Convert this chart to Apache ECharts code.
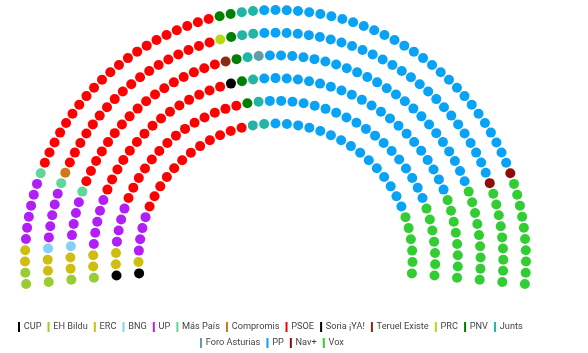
<!DOCTYPE html>
<html>
<head>
<meta charset="utf-8">
<script src="https://cdn.jsdelivr.net/npm/echarts@6/dist/echarts.min.js"></script>
<style>
  html, body { margin: 0; padding: 0; background: #fff; }
  #chart { width: 588px; height: 353px; }
</style>
</head>
<body>
<div id="chart"></div>
<script>
// ---- Data ----
const parties = ["CUP", "EH Bildu", "ERC", "BNG", "UP", "Más País", "Compromis", "PSOE",
  "Soria ¡YA!", "Teruel Existe", "PRC", "PNV", "Junts", "Foro Asturias", "PP", "Nav+", "Vox"];
const seats = [2, 5, 11, 2, 28, 3, 1, 97, 1, 1, 1, 6, 9, 1, 131, 2, 49];
const colors = ["#000000", "#9acd32", "#cfbe10", "#87cefa", "#b11ef8", "#5ed89a", "#d2781c", "#ff0000",
  "#000000", "#8c2a10", "#b4dc0c", "#008000", "#20b5a5", "#5f9ea8", "#08a2f6", "#8b0e0a", "#32cd32"];
// seats on each arc, inner arc first
const rowSeats = [41, 48, 55, 62, 69, 75];
const legendLine1 = parties.slice(0, 13);
const legendLine2 = parties.slice(13);

// ---- Layout of seats (hemicycle slightly over 180 degrees) ----
const START = 185.4, SPAN = 190.8;
const slots = [];
rowSeats.forEach((n, row) => {
  const step = SPAN / (n - 1);
  for (let k = 0; k < n; k++) {
    slots.push({ row: row, angle: START - k * step });
  }
});
slots.sort((p, q) => (q.angle - p.angle) || (p.row - q.row));

const series = [];
let idx = 0;
parties.forEach((name, i) => {
  const data = [];
  for (let s = 0; s < seats[i]; s++, idx++) {
    const sl = slots[idx];
    data.push([sl.row, sl.angle]);
  }
  series.push({
    name: name,
    type: 'scatter',
    coordinateSystem: 'polar',
    symbol: 'circle',
    symbolSize: 10,
    itemStyle: { color: colors[i], opacity: 1 },
    data: data,
    silent: true
  });
});

const legendBase = {
  padding: 0,
  icon: 'rect',
  itemWidth: 2,
  itemHeight: 10,
  itemGap: 6.1,
  selectedMode: false,
  textStyle: { fontSize: 9.2, color: '#444', fontFamily: 'Roboto', padding: [0, 0, 0, -1.3] }
};

const chart = echarts.init(document.getElementById('chart'), null, { renderer: 'canvas' });
chart.setOption({
  animation: false,
  color: colors,
  polar: { center: [275.5, 260.5], radius: 250.5 },
  angleAxis: {
    type: 'value', min: -180, max: 180, startAngle: 180, clockwise: false,
    axisLine: { show: false }, axisTick: { show: false }, axisLabel: { show: false },
    splitLine: { show: false }, show: false
  },
  radiusAxis: {
    type: 'value', min: -6.035, max: 5,
    axisLine: { show: false }, axisTick: { show: false }, axisLabel: { show: false },
    splitLine: { show: false }, show: false
  },
  legend: [
    Object.assign({}, legendBase, { data: legendLine1, top: 322, left: 18 }),
    Object.assign({}, legendBase, { data: legendLine2, top: 338, left: 200 })
  ],
  series: series
});
</script>
</body>
</html>
